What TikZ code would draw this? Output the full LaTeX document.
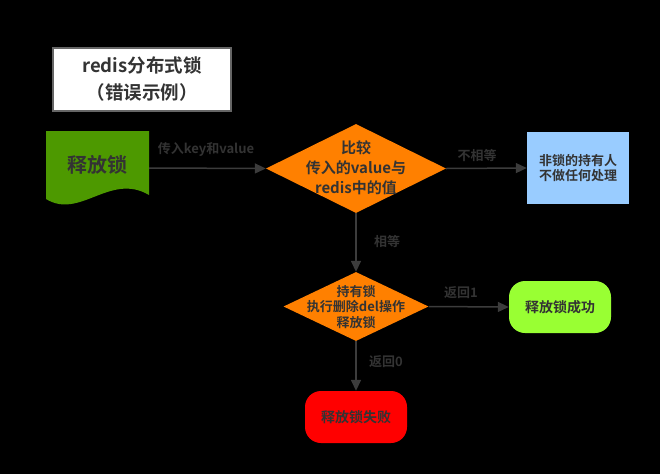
\documentclass[tikz,border=0pt]{standalone}
\usepackage{fontspec}
\setmainfont{Noto Sans CJK SC}[BoldFont={Noto Sans CJK SC Bold}]
\usetikzlibrary{shapes.geometric,arrows.meta}
\definecolor{ink}{HTML}{333333}
\definecolor{linec}{HTML}{3C3C3C}
\definecolor{orangec}{HTML}{FF8000}
\definecolor{bluec}{HTML}{99CCFF}
\definecolor{limec}{HTML}{99FF33}
\definecolor{redc}{HTML}{FF0000}
\definecolor{docgreen}{HTML}{4D9900}
\definecolor{titleborder}{HTML}{666666}
\tikzset{
  txt/.style={font=\bfseries, text=ink, align=center, inner sep=0pt},
  dia/.style={diamond, fill=orangec, draw=none, inner sep=0pt},
  conn/.style={draw=linec, line width=1.5pt, -{Triangle[length=11pt,width=10pt]}},
  elabel/.style={font=\bfseries\fontsize{13}{15}\selectfont, text=ink, inner sep=0pt},
  roundbox/.style={rounded corners=16pt, draw=none, minimum width=102pt, minimum height=52pt, inner sep=0pt, font=\bfseries\fontsize{14}{16}\selectfont, text=ink}
}
\begin{document}
\begin{tikzpicture}[x=1pt,y=-1pt]
\fill[black] (0,0) rectangle (660,474);
\useasboundingbox (0,0) rectangle (660,474);

% title
\node[draw=titleborder, line width=2pt, fill=white, minimum width=178pt, minimum height=63pt, txt, font=\bfseries\fontsize{18.5}{27}\selectfont] (title) at (142,79.5) {redis分布式锁\\（错误示例）};

% document shape
\node[minimum width=103pt, minimum height=74pt, inner sep=0pt] (doc) at (97.5,168) {};
\fill[docgreen] (46,131) -- (149,131) -- (149,195) .. controls (110,172) and (80,220) .. (46,199) -- cycle;
\node[txt, font=\bfseries\fontsize{20}{24}\selectfont] (doctext) at (97.5,165) {释放锁};

% diamond 1
\node[dia, minimum width=180pt, minimum height=89pt] (d1) at (356,168.5) {};
\node[txt, font=\bfseries\fontsize{15}{20}\selectfont] (d1text) at (356,168) {比较\\传入的value与\\redis中的值};

% blue box
\node[fill=bluec, minimum width=102pt, minimum height=72pt, inner sep=0pt, txt, font=\bfseries\fontsize{13}{15.5}\selectfont] (blue) at (578,168) {非锁的持有人\\不做任何处理};

% diamond 2
\node[dia, minimum width=145pt, minimum height=69pt] (d2) at (356,306.5) {};
\node[txt, font=\bfseries\fontsize{13}{15.5}\selectfont] (d2text) at (356,307) {持有锁\\执行删除del操作\\释放锁};

% result boxes
\node[roundbox, fill=limec] (ok) at (560,307) {释放锁成功};
\node[roundbox, fill=redc] (fail) at (356,417) {释放锁失败};

% connectors
\draw[conn] (doc.east) -- (d1.west);
\draw[conn] (d1.east) -- (blue.west);
\draw[conn] (d1.south) -- (d2.north);
\draw[conn] (d2.east) -- (ok.west);
\draw[conn] (d2.south) -- (fail.north);

% edge labels
\node[elabel] (l1) at (206,149) {传入key和value};
\node[elabel] (l2) at (477,155) {不相等};
\node[elabel] (l3) at (387,241) {相等};
\node[elabel] (l4) at (461,293) {返回1};
\node[elabel] (l5) at (386,362) {返回0};
\end{tikzpicture}
\end{document}
